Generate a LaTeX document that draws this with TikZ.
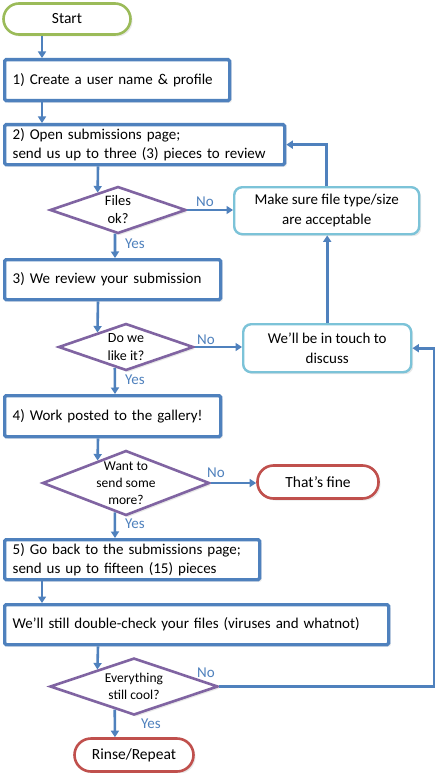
\documentclass[tikz,border=0pt]{standalone}
\usepackage{fontspec}
\setmainfont{Carlito}
\usetikzlibrary{arrows.meta,shapes.geometric,calc,shadows}
\definecolor{boxblue}{HTML}{4F81BD}
\definecolor{arrowblue}{HTML}{4F81BD}
\definecolor{diapurple}{HTML}{8064A2}
\definecolor{termgreen}{HTML}{9BBB59}
\definecolor{termred}{HTML}{C0504D}
\definecolor{cyanbox}{HTML}{7CC3D8}
\definecolor{lblblue}{HTML}{4F81BD}
\begin{document}
\begin{tikzpicture}[x=1pt,y=-1pt,
  shd/.style={drop shadow={opacity=0.18,shadow xshift=2pt,shadow yshift=-2pt}},
  arr/.style={draw=arrowblue,line width=2.6pt,-{Triangle[length=6.5pt,width=8pt]}},
  box/.style={draw=boxblue,line width=3.3pt,fill=white,shd,anchor=north west,align=left,
    inner xsep=8pt,inner ysep=2pt,rounded corners=1.5pt,font=\fontsize{15}{19.5}\selectfont},
  dia/.style={diamond,draw=diapurple,line width=2.6pt,fill=white,shd,inner sep=0pt},
  dtext/.style={align=center,inner sep=0pt},
  term/.style={rectangle,line width=2.6pt,fill=white,shd,font=\fontsize{15.5}{19}\selectfont},
  soft/.style={rectangle,draw=cyanbox,line width=2.4pt,fill=white,shd,rounded corners=8pt,
    align=center,anchor=north west,font=\fontsize{15}{19.5}\selectfont},
  lbl/.style={text=lblblue,font=\fontsize{15}{17}\selectfont,inner sep=0pt}]
\useasboundingbox (0,0) rectangle (437,773);
\fill[white] (0,0) rectangle (437,773);
% x positions
\coordinate (x42) at (42,0);
\coordinate (x98) at (98,0);
\coordinate (x115) at (115,0);
\coordinate (xr) at (434,0);
% nodes
\node[term,draw=termgreen,rounded corners=15.5pt,minimum width=127pt,minimum height=31pt] (start) at (67,19) {Start};
\node[box,text width=209pt,minimum height=41pt] (b1) at (3,58) {1) Create a user name \& profile};
\node[box,text width=264pt,minimum height=40pt] (b2) at (3,123) {2) Open submissions page;\\send us up to three (3) pieces to review};
\node[dia,minimum width=136pt,minimum height=47pt] (d1) at (118,210) {};
\node[dtext,font=\fontsize{14.5}{18}\selectfont] (d1t) at (d1) {Files\\ok?};
\node[soft,minimum width=185pt,minimum height=47pt] (m1) at (233,186) {Make sure file type/size\\are acceptable};
\node[box,text width=200pt,minimum height=40pt] (b3) at (3,258) {3) We review your submission};
\node[dia,minimum width=135pt,minimum height=47pt] (d2) at (126,347) {};
\node[dtext,font=\fontsize{14}{18.5}\selectfont] (d2t) at (d2) {Do we\\like it?};
\node[soft,minimum width=168pt,minimum height=48pt] (m2) at (242,323) {We’ll be in touch to\\discuss};
\node[box,text width=200pt,minimum height=41pt] (b4) at (3,394) {4) Work posted to the gallery!};
\node[dia,minimum width=167pt,minimum height=65pt] (d3) at (126,483) {};
\node[dtext,font=\fontsize{13.5}{17}\selectfont] (d3t) at (d3) {Want to\\send some\\more?};
\node[term,draw=termred,rounded corners=16pt,minimum width=121pt,minimum height=33pt] (fine) at (318,482) {That’s fine};
\node[box,text width=239pt,minimum height=40pt] (b5) at (3,538) {5) Go back to the submissions page;\\send us up to fifteen (15) pieces};
\node[box,text width=368pt,minimum height=40pt] (b6) at (3,603) {We’ll still double-check your files (viruses and whatnot)};
\node[dia,minimum width=168pt,minimum height=57pt] (d4) at (134,686.5) {};
\node[dtext,font=\fontsize{13.5}{16.5}\selectfont] (d4t) at (d4) {Everything\\still cool?};
\node[term,draw=termred,rounded corners=16.5pt,minimum width=119pt,minimum height=33pt] (rinse) at (134,755) {Rinse/Repeat};
% edge points on diamonds
\coordinate (d1in) at ($(d1.west)!0.706!(d1.north)$);
\coordinate (d1out) at ($(d1.south)!0.044!(d1.west)$);
\coordinate (d2in) at ($(d2.west)!0.585!(d2.north)$);
\coordinate (d2out) at ($(d2.south)!0.163!(d2.west)$);
\coordinate (d3in) at ($(d3.west)!0.665!(d3.north)$);
\coordinate (d3out) at ($(d3.south)!0.132!(d3.west)$);
\coordinate (d4in) at ($(d4.west)!0.571!(d4.north)$);
\coordinate (d4out) at ($(d4.south)!0.226!(d4.west)$);
% labels
\node[lbl] (n1) at (205,202) {No};
\node[lbl] (y1) at (135,244) {Yes};
\node[lbl] (n2) at (206,340) {No};
\node[lbl] (y2) at (135,380) {Yes};
\node[lbl] (n3) at (216,473) {No};
\node[lbl] (y3) at (135,524) {Yes};
\node[lbl] (n4) at (206,673) {No};
\node[lbl] (y4) at (151,724) {Yes};
% connectors
\draw[arr] (start.south -| x42) -- (b1.north -| x42);
\draw[arr] (b1.south -| x42) -- (b2.north -| x42);
\draw[arr] (b2.south -| x98) -- (d1in);
\draw[arr] (d1.east) -- (d1.east -| m1.west);
\draw[arr] (d1out) -- (b3.north -| x115);
\draw[arr] (m1.north) |- (b2.east);
\draw[arr] (m2.north) -- (m2.north |- m1.south);
\draw[arr] (b3.south -| x98) -- (d2in);
\draw[arr] (d2.east) -- (d2.east -| m2.west);
\draw[arr] (d2out) -- (b4.north -| x115);
\draw[arr] (b4.south -| x98) -- (d3in);
\draw[arr] (d3.east) -- (d3.east -| fine.west);
\draw[arr] (d3out) -- (b5.north -| x115);
\draw[arr] (b5.south -| x42) -- (b6.north -| x42);
\draw[arr] (b6.south -| x98) -- (d4in);
\draw[arr] (d4out) -- (rinse.north -| x115);
\draw[arr] (d4.east) -- (d4.east -| xr) |- (m2.east);
\end{tikzpicture}
\end{document}
